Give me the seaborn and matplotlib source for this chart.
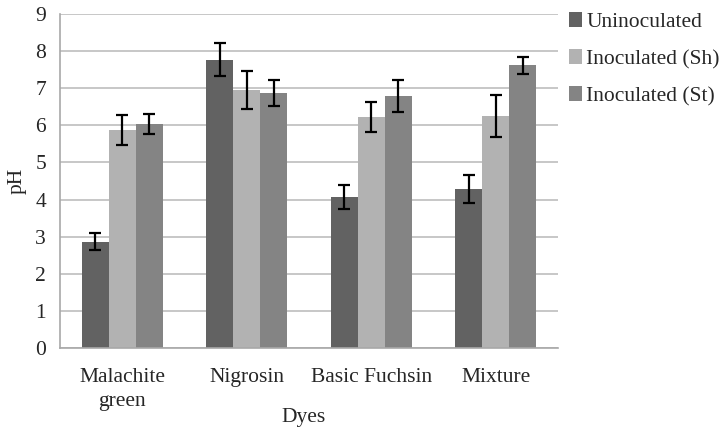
import pandas as pd
import matplotlib.pyplot as plt
import seaborn as sns

# values
dyes = ["Malachite\ngreen", "Nigrosin", "Basic Fuchsin", "Mixture"]
treatments = ["Uninoculated", "Inoculated (Sh)", "Inoculated (St)"]
uninoc = [2.87, 7.77, 4.08, 4.28]
inoc_sh = [5.87, 6.95, 6.22, 6.25]
inoc_st = [6.03, 6.88, 6.80, 7.61]
err_un = [0.23, 0.45, 0.32, 0.38]
err_sh = [0.40, 0.50, 0.40, 0.56]
err_st = [0.27, 0.35, 0.43, 0.24]

colors = ["#626262", "#b2b2b2", "#848484"]

rows = []
for vals, errs, t in [(uninoc, err_un, treatments[0]),
                      (inoc_sh, err_sh, treatments[1]),
                      (inoc_st, err_st, treatments[2])]:
    for d, v, e in zip(dyes, vals, errs):
        rows.append({"Dye": d, "Treatment": t, "pH": v, "err": e})
df = pd.DataFrame(rows)

sns.set_style("white")
plt.rcParams["font.family"] = ["Liberation Serif", "DejaVu Serif"]

fig = plt.figure(figsize=(7.22, 4.32), dpi=100)
ax = fig.add_axes([0.083, 0.194, 0.690, 0.774])

sns.barplot(data=df, x="Dye", y="pH", hue="Treatment", hue_order=treatments,
            palette=colors, width=0.65, gap=0, errorbar=None, saturation=1,
            linewidth=0, ax=ax)

# error bars at each bar's centre
for cont, t in zip(ax.containers, treatments):
    sub = df[df["Treatment"] == t]
    xs = [p.get_x() + p.get_width() / 2 for p in cont.patches]
    ax.errorbar(xs, sub["pH"].values, yerr=sub["err"].values, fmt="none",
                ecolor="black", elinewidth=1.6, capsize=4.5, capthick=1.6,
                zorder=5)

ax.set_ylim(0, 9)
ax.set_xlim(-0.5, 3.5)
ax.set_yticks(range(0, 10))
ax.yaxis.grid(True, color="#bdbdbd", linewidth=1.2)
ax.set_axisbelow(True)
for s in ["top", "right"]:
    ax.spines[s].set_visible(False)
for s in ["left", "bottom"]:
    ax.spines[s].set_color("#a8a8a8")
    ax.spines[s].set_linewidth(1.2)

ax.set_xticks([-0.5, 0.5, 1.5, 2.5, 3.5], minor=True)
ax.tick_params(axis="x", which="major", length=0, pad=14, labelsize=15.5)
ax.tick_params(axis="x", which="minor", length=8, color="#a8a8a8", width=1.2)
ax.tick_params(axis="y", length=8, color="#bdbdbd", width=1.2, labelsize=15.5, pad=2)
for lbl in ax.get_xticklabels():
    lbl.set_linespacing(1.4)

ax.set_xlabel("Dyes", fontsize=15.5)
ax.xaxis.set_label_coords(0.49, -0.178)
ax.xaxis.label.set_va("top")
ax.set_ylabel("pH", fontsize=15.5, labelpad=6)

ax.legend(loc="upper left", bbox_to_anchor=(1.005, 1.03), frameon=False,
          fontsize=15.5, handlelength=0.6, handleheight=0.7, handletextpad=0.2,
          labelspacing=0.78, borderaxespad=0)

fig.savefig("out.png", dpi=100)
